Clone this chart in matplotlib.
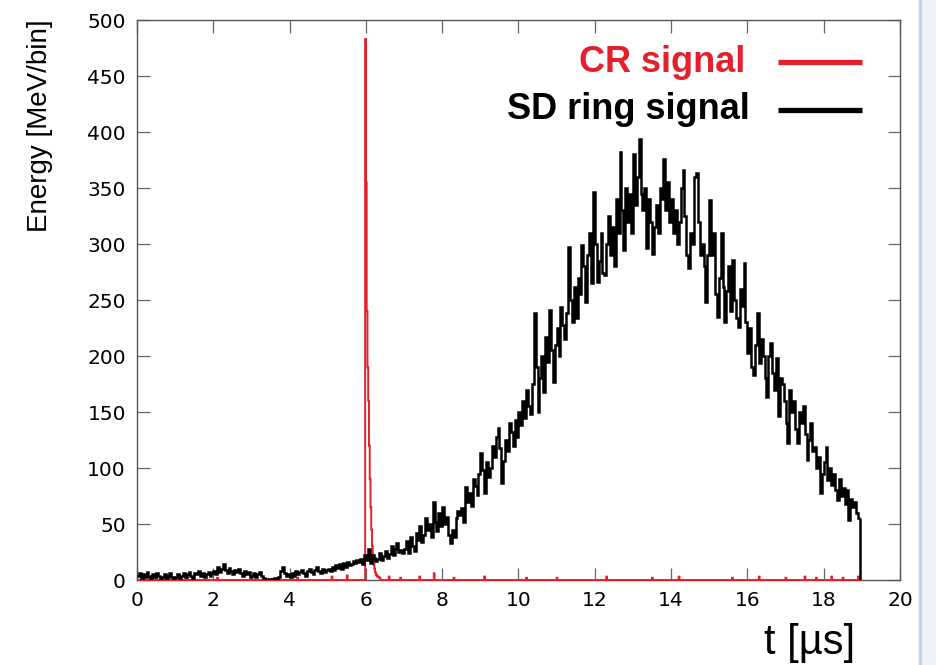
import numpy as np
import matplotlib
matplotlib.use('Agg')
import matplotlib.pyplot as plt
from matplotlib.patches import Rectangle

# SD ring signal: energy per 0.05 us bin, from t = 0 up to 18.95 us
sd_bin_width = 0.05
sd_energy = [
    # 0 - 1 us
    4, 6, 2, 5, 3, 7, 4, 2, 5, 3, 6, 4, 1, 3, 5, 2, 4, 6, 3, 2,
    # 1 - 2 us
    3, 5, 2, 4, 6, 3, 5, 7, 4, 2, 6, 5, 8, 4, 6, 3, 5, 7, 4, 6,
    # 2 - 3 us
    8, 5, 12, 7, 10, 14, 9, 6, 11, 8, 5, 9, 7, 10, 6, 4, 8, 5, 7, 3,
    # 3 - 4 us
    4, 6, 3, 5, 7, 4, 2, 1, 0, 1, 0, 1, 2, 1, 3, 8, 12, 6, 4, 5,
    # 4 - 5 us
    3, 6, 4, 8, 5, 7, 9, 6, 4, 8, 10, 7, 5, 9, 12, 8, 6, 10, 7, 9,
    # 5 - 6 us
    10, 8, 12, 9, 13, 11, 14, 10, 15, 12, 16, 13, 14, 17, 15, 18, 16, 19, 14, 22,
    # 6 - 7 us
    18, 28, 15, 22, 20, 17, 19, 24, 18, 21, 26, 20, 23, 30, 22, 28, 33, 25, 27, 24,
    # 7 - 8 us
    28, 35, 24, 38, 30, 26, 42, 36, 48, 34, 40, 55, 45, 50, 38, 70, 52, 44, 60, 48,
    # 8 - 9 us
    65, 50, 56, 40, 33, 45, 38, 55, 62, 58, 64, 52, 83, 70, 78, 66, 90, 84, 76, 95,
    # 9 - 10 us
    113, 98, 78, 105, 92, 100, 120, 110, 128, 136, 118, 87, 106, 125, 115, 140, 132, 120, 143, 128,
    # 10 - 11 us
    150, 138, 160, 145, 170, 155, 148, 175, 238, 190, 150, 180, 200, 168, 217, 195, 241, 205, 177, 210,
    # 11 - 12 us
    225, 200, 244, 228, 215, 238, 297, 250, 230, 262, 234, 270, 255, 299, 280, 248, 290, 310, 265, 346,
    # 12 - 13 us
    300, 266, 285, 310, 274, 272, 300, 325, 290, 315, 280, 340, 310, 382, 330, 295, 350, 320, 345, 310,
    # 13 - 14 us
    380, 335, 360, 394, 345, 330, 350, 296, 340, 320, 291, 315, 335, 310, 350, 340, 376, 330, 355, 320,
    # 14 - 15 us
    340, 310, 330, 300, 320, 350, 366, 325, 290, 279, 310, 300, 360, 363, 320, 290, 300, 280, 248, 290,
    # 15 - 16 us
    339, 290, 310, 255, 235, 270, 310, 262, 230, 258, 280, 240, 286, 250, 234, 226, 260, 245, 283, 230,
    # 16 - 17 us
    203, 225, 190, 183, 210, 238, 194, 215, 200, 180, 163, 200, 212, 185, 170, 198, 146, 180, 175, 160,
    # 17 - 18 us
    140, 122, 170, 150, 160, 135, 122, 150, 140, 155, 130, 107, 125, 140, 115, 119, 100, 110, 78, 95,
    # 18 - 18.95 us
    105, 119, 89, 100, 85, 95, 80, 71, 90, 75, 82, 68, 80, 54, 72, 65, 70, 60, 55,
]

# CR signal: 0.02 us bins, zero except for the bins listed here
cr_bin_width = 0.02
cr_t_end = 18.96
cr_bin_start = [
    0.50, 1.30, 2.10, 3.00, 4.20, 5.10, 5.50,
    5.98, 6.00, 6.02, 6.04, 6.06, 6.08, 6.10, 6.12, 6.14, 6.16, 6.18,
    6.20, 6.22, 6.24, 6.26, 6.28, 6.30, 6.32, 6.34, 6.36,
    6.60, 6.90, 7.40, 7.78, 8.30, 9.10, 10.20, 11.00, 12.30, 13.50,
    14.20, 15.60, 16.30, 17.00, 17.50, 17.80, 18.20, 18.50, 18.90,
]
cr_energy = [
    2, 3, 2, 3, 2, 3, 4,
    483, 355, 240, 190, 160, 120, 90, 65, 45, 30, 20,
    14, 10, 7, 5, 4, 3, 3, 2, 2,
    3, 2, 3, 6, 2, 3, 2, 2, 3, 2,
    3, 2, 3, 2, 3, 2, 3, 2, 3,
]

y_ticks = [0, 50, 100, 150, 200, 250, 300, 350, 400, 450, 500]
x_ticks = [0, 2, 4, 6, 8, 10, 12, 14, 16, 18, 20]
legend_labels = ['CR signal', 'SD ring signal']
legend_colors = ['#e3202b', 'black']

# histogram edges
sd_vals = np.array(sd_energy, dtype=float)
sd_edges = np.arange(len(sd_vals) + 1) * sd_bin_width

n_cr = int(round(cr_t_end / cr_bin_width))
cr_vals = np.zeros(n_cr)
for t, e in zip(cr_bin_start, cr_energy):
    cr_vals[int(round(t / cr_bin_width))] = e
cr_edges = np.arange(n_cr + 1) * cr_bin_width

fig = plt.figure(figsize=(9.36, 6.65), dpi=100)
ax = fig.add_axes([0.1464, 0.1278, 0.8151, 0.8421])

ax.stairs(cr_vals, cr_edges, color=legend_colors[0], lw=1.4, baseline=None,
          zorder=2.6, clip_on=False)
ax.stairs(sd_vals, sd_edges, color='black', lw=1.8, baseline=None, zorder=3)
# drop back to zero where the SD histogram ends
ax.vlines(sd_edges[-1], 0, sd_vals[-1], color='black', lw=1.8, zorder=3)

ax.set_xlim(0, 20)
ax.set_ylim(0, 500)
ax.set_xticks(x_ticks)
ax.set_yticks(y_ticks)
ax.tick_params(direction='in', length=9, width=0.9, color='#666666',
               top=True, right=True, labelsize=14.5, pad=8)
for lab in ax.get_xticklabels() + ax.get_yticklabels():
    lab.set_family('DejaVu Sans')
for sp in ax.spines.values():
    sp.set_color('#555555')
    sp.set_linewidth(1.0)

# axis titles
fig.text(40 / 936, 1 - 126 / 665, 'Energy [MeV/bin]', rotation=90,
         ha='center', va='center', fontsize=20, family='Liberation Sans')
fig.text(855 / 936, 1 - 643 / 665, 't [µs]', ha='right', va='center',
         fontsize=30, family='Liberation Sans')

# key, text to the left of the line samples
key_y = [0.925, 0.840]
key_text_x = [0.797, 0.803]
for lbl, col, ky, kx in zip(legend_labels, legend_colors, key_y, key_text_x):
    ax.text(kx, ky, lbl, transform=ax.transAxes, ha='right', va='center',
            fontsize=26, fontweight='bold', color=col, family='Liberation Sans')
    ax.plot([0.840, 0.950], [ky, ky], transform=ax.transAxes, color=col,
            lw=3.8, solid_capstyle='butt', clip_on=False)

# pale strip along the right edge
fig.patches.append(Rectangle((918 / 936, 0), 18 / 936, 1, transform=fig.transFigure,
                             facecolor='#eef1fa', edgecolor='none', zorder=0))
fig.patches.append(Rectangle((919 / 936, 0), 2.5 / 936, 1, transform=fig.transFigure,
                             facecolor='#b9d6ef', edgecolor='none', zorder=0))

plt.savefig('out.png', dpi=100)
